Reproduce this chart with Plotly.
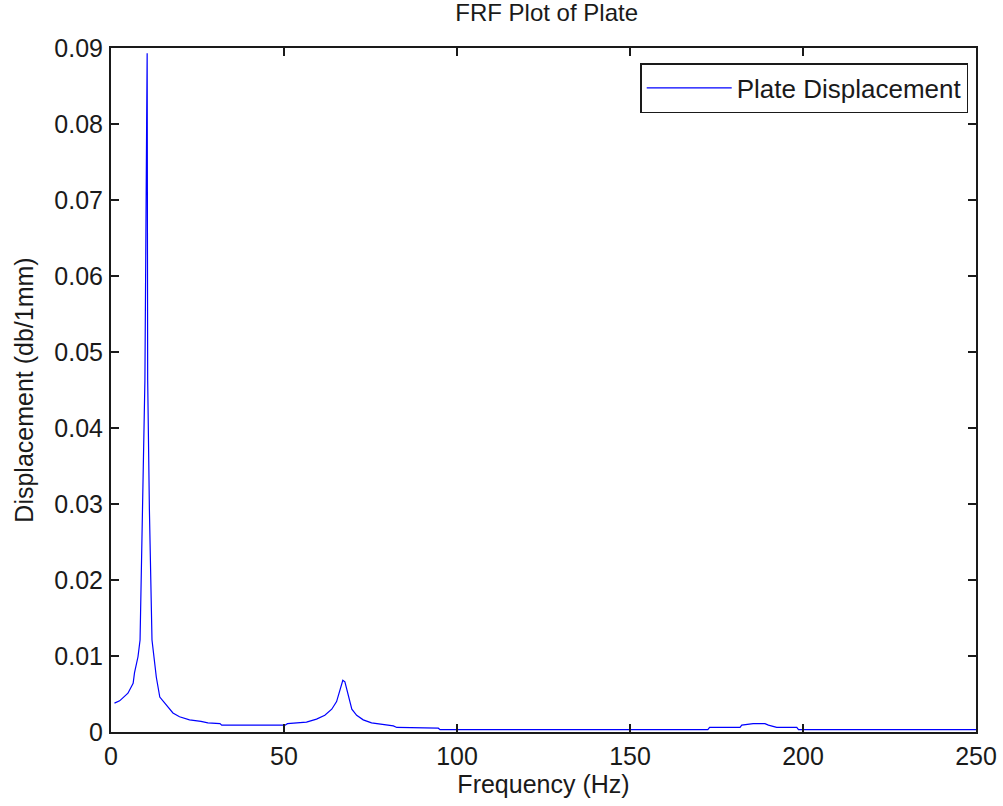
import plotly.graph_objects as go

# Frequency response of the plate: frequency (Hz) vs displacement
freq_hz = [
    1.0, 2.5, 4.9, 6.4, 6.8, 7.8, 8.4, 9.1, 9.8, 10.3, 10.45, 10.6, 11.1, 11.85,
    12.4, 13.1, 14.1, 15.5, 17.9, 19.8, 22.7, 26.0, 28.0, 31.5, 32.0, 50.3, 51.0,
    56.5, 59.4, 61.8, 63.8, 65.2, 66.0, 67.0, 67.6, 68.6, 69.6, 71.0, 72.9,
    75.3, 78.2, 81.6, 82.6, 94.6, 95.1, 172.5, 173.0, 181.8, 182.3, 185.6,
    189.0, 190.0, 192.4, 198.2, 198.7, 250.0,
]
displacement = [
    0.0038, 0.0041, 0.0051, 0.0064, 0.0078, 0.0099, 0.0121, 0.0292, 0.0463,
    0.0800, 0.0893, 0.0463, 0.0292, 0.0121,
    0.0095, 0.0072, 0.0046, 0.0038, 0.0025, 0.0020, 0.0016, 0.0014, 0.0012, 0.0011,
    0.0009, 0.0009, 0.0011,
    0.0013, 0.0017, 0.0022, 0.0030, 0.0040, 0.0053, 0.0068, 0.0066, 0.0049,
    0.0030, 0.0022, 0.0016,
    0.0012, 0.0010, 0.0008, 0.0006, 0.0005, 0.0003, 0.0003, 0.0006, 0.0006,
    0.0009, 0.0011,
    0.0011, 0.0009, 0.0006, 0.0006, 0.0003, 0.0003,
]

x_ticks = [0, 50, 100, 150, 200, 250]
y_ticks = [0, 0.01, 0.02, 0.03, 0.04, 0.05, 0.06, 0.07, 0.08, 0.09]
y_tick_text = ["0", "0.01", "0.02", "0.03", "0.04", "0.05", "0.06", "0.07", "0.08", "0.09"]

font_family = "Liberation Sans, Arial, sans-serif"
ink = "#1a1a1a"

fig = go.Figure()
fig.add_trace(go.Scatter(
    x=freq_hz, y=displacement, mode="lines",
    name="Plate Displacement",
    line=dict(color="#0000ff", width=1.2),
))

axis_common = dict(
    showgrid=False, zeroline=False, automargin=False,
    showline=True, linecolor=ink, linewidth=2,
    mirror="allticks", ticks="inside", ticklen=8, tickwidth=1.5,
    tickcolor=ink,
    tickfont=dict(family=font_family, size=25, color=ink),
)

fig.update_layout(
    width=1003, height=806,
    margin=dict(l=111, r=27, t=48, b=74),
    paper_bgcolor="white", plot_bgcolor="white",
    font=dict(family=font_family, size=25, color=ink),
    title=dict(text="FRF Plot of Plate", x=0.545, xanchor="center",
               y=0.984, yanchor="middle",
               font=dict(family=font_family, size=24, color=ink)),
    xaxis=dict(range=[0, 250], tickvals=x_ticks, ticklabelstandoff=1,
               title=dict(text="Frequency (Hz)", standoff=4,
                          font=dict(family=font_family, size=25)),
               **axis_common),
    yaxis=dict(range=[0, 0.09], tickvals=y_ticks, ticktext=y_tick_text,
               ticklabelstandoff=1,
               title=dict(text="Displacement (db/1mm)", standoff=14,
                          font=dict(family=font_family, size=25)),
               **axis_common),
    showlegend=True,
    legend=dict(x=0.991, y=0.978, xanchor="right", yanchor="top",
                bgcolor="white", bordercolor=ink, borderwidth=1.5,
                font=dict(family=font_family, size=26, color=ink),
                itemwidth=85, tracegroupgap=0),
)

fig.write_html("out.html")
